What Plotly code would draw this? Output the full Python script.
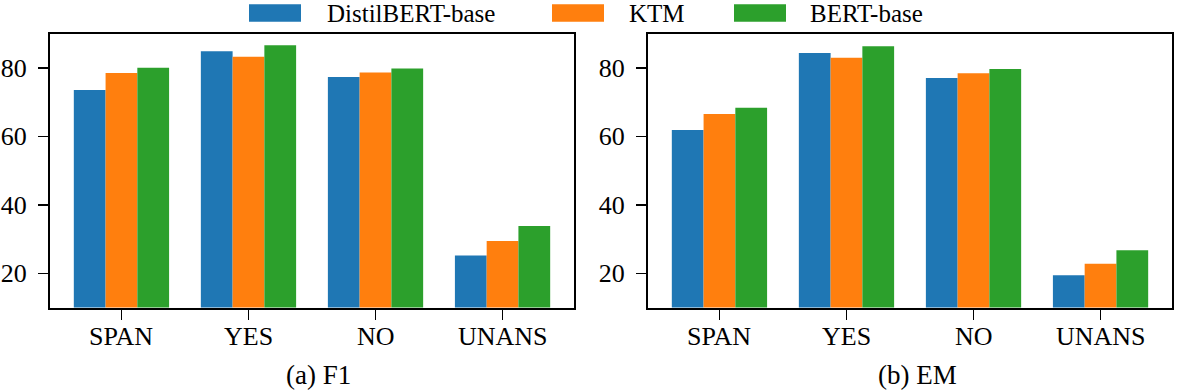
import plotly.graph_objects as go
from plotly.subplots import make_subplots

categories = ["SPAN", "YES", "NO", "UNANS"]
models = ["DistilBERT-base", "KTM", "BERT-base"]
f1_distil = [73.5, 84.8, 77.3, 25.2]
f1_ktm = [78.5, 83.2, 78.6, 29.4]
f1_bert = [80.0, 86.6, 79.8, 33.8]
em_distil = [61.8, 84.3, 77.0, 19.4]
em_ktm = [66.5, 82.9, 78.4, 22.8]
em_bert = [68.3, 86.3, 79.6, 26.7]
captions = ["(a) F1", "(b) EM"]
yticks = [20, 40, 60, 80]
colors = ["#1f77b4", "#ff7f0e", "#2ca02c"]

W, H = 1177, 390
FONT = "Liberation Serif, Times New Roman, serif"

fig = make_subplots(rows=1, cols=2)
panels = [[f1_distil, f1_ktm, f1_bert], [em_distil, em_ktm, em_bert]]
for c, series in enumerate(panels, start=1):
    for name, vals, col in zip(models, series, colors):
        fig.add_trace(go.Bar(x=categories, y=vals, name=name, marker=dict(color=col, line=dict(width=0)),
                             showlegend=False, hoverinfo="skip"), row=1, col=c)

x_domains = [[50 / W, 574 / W], [648 / W, 1172 / W]]
y_domain = [1 - 307.5 / H, 1 - 33.5 / H]
axis_common = dict(showline=True, linecolor="black", linewidth=2, mirror=True, ticks="outside",
                   ticklen=10, tickwidth=1.5, tickcolor="black", showgrid=False, zeroline=False,
                   automargin=False,
                   tickfont=dict(family=FONT, size=26, color="black"))
for i, c in enumerate([1, 2]):
    fig.update_xaxes(domain=x_domains[i], range=[-0.5625, 3.5625], showticklabels=False, **axis_common, row=1, col=c)
    fig.update_yaxes(domain=y_domain, range=[10, 90], tickvals=yticks, ticklabelstandoff=6, **axis_common, row=1, col=c)

# x tick labels placed on the category axis
for i, c in enumerate([1, 2]):
    xref = "x" if c == 1 else "x2"
    for cat in categories:
        fig.add_annotation(x=cat, xref=xref, y=1 - 336 / H, yref="paper", text=cat, showarrow=False,
                           xanchor="center", yanchor="middle", font=dict(family=FONT, size=26, color="black"))

# captions
for i, cap in enumerate(captions):
    fig.add_annotation(x=(x_domains[i][0] + x_domains[i][1]) / 2 + 7 / W, y=1 - 375 / H, xref="paper", yref="paper",
                       text=cap, showarrow=False, xanchor="center", yanchor="middle",
                       font=dict(family=FONT, size=27, color="black"))

# legend (custom, to match wide patches)
patch_x = [249, 552, 734]
text_x = [325, 627, 808]
for name, col, px, tx in zip(models, colors, patch_x, text_x):
    fig.add_shape(type="rect", xref="paper", yref="paper", x0=px / W, x1=(px + 52) / W,
                  y0=1 - 21.7 / H, y1=1 - 4.3 / H, fillcolor=col, line=dict(width=0))
    fig.add_annotation(x=tx / W, y=1 - 13.5 / H, xref="paper", yref="paper", text=name, showarrow=False,
                       xanchor="left", yanchor="middle", font=dict(family=FONT, size=25, color="black"))

fig.update_layout(width=W, height=H, margin=dict(l=0, r=0, t=0, b=0, autoexpand=False), barmode="group",
                  bargap=0.25, bargroupgap=0, plot_bgcolor="white", paper_bgcolor="white",
                  font=dict(family=FONT, color="black"))
fig.write_html("out.html", config={"displayModeBar": False, "staticPlot": True},
               post_script="document.body.style.margin='0';document.body.style.overflow='hidden';")
